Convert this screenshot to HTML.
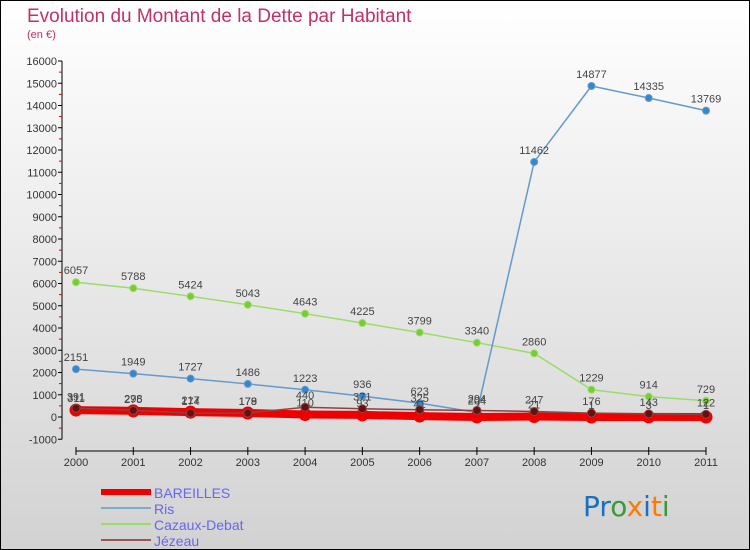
<!DOCTYPE html>
<html><head><meta charset="utf-8"><style>
body{margin:0}
#wrap{width:748px;height:548px;border:1px solid #000;background:linear-gradient(#ffffff,#d2d2d2);position:relative;overflow:hidden;font-family:"Liberation Sans",sans-serif}
</style></head><body>
<div id="wrap">
<svg id="chart" width="748" height="548" style="position:absolute;left:0;top:0">
<text x="26" y="21" font-size="19" fill="#c0306a">Evolution du Montant de la Dette par Habitant</text>
<text x="26" y="37" font-size="11" fill="#c0306a">(en €)</text>
<g id="axes"></g><g id="series"></g><g id="legend"></g>
<text x="582" y="515" font-size="28" font-family="DejaVu Sans, sans-serif"><tspan fill="#1a70c0">Pr</tspan><tspan fill="#3a9a3a">o</tspan><tspan fill="#ff7a00">x</tspan><tspan fill="#1a70c0">i</tspan><tspan fill="#ff7a00">t</tspan><tspan fill="#3a9a3a">i</tspan></text>
</svg>
</div>
<script>
const years=[2000,2001,2002,2003,2004,2005,2006,2007,2008,2009,2010,2011];
const bareilles=[311,275,217,179,110,93,41,2,21,1,3,1];
const ris=[2151,1949,1727,1486,1223,936,623,204,11462,14877,14335,13769];
const cazaux=[6057,5788,5424,5043,4643,4225,3799,3340,2860,1229,914,729];
const jezeau=[391,298,174,178,440,371,325,294,247,176,143,122];
const yTicks=[-1000,0,1000,2000,3000,4000,5000,6000,7000,8000,9000,10000,11000,12000,13000,14000,15000,16000];
const NS="http://www.w3.org/2000/svg";
function X(i){return 75+i*(705-75)/(years.length-1);}
function Y(v){return 416-v*22.25/1000;}
function mk(t,a,p){const e=document.createElementNS(NS,t);for(const k in a)e.setAttribute(k,a[k]);p.appendChild(e);return e;}
const ax=document.getElementById('axes');
const yl=mk('line',{x1:61,y1:Y(16000),x2:61,y2:Y(-1000),stroke:'#000'},ax);


yTicks.forEach(v=>{
 mk('line',{x1:57,y1:Y(v),x2:61,y2:Y(v),stroke:'#000'},ax);
 if(v<16000) mk('line',{x1:58,y1:Y(v+500),x2:61,y2:Y(v+500),stroke:'#d00'},ax);
 const t=mk('text',{x:56,y:Y(v)+4,'font-size':11,fill:'#333','text-anchor':'end'},ax);
 t.textContent=v;
 
 
});
const xl=mk('line',{x1:X(0),y1:450,x2:X(11),y2:450,stroke:'#000'},ax);


years.forEach((y,i)=>{
 mk('line',{x1:X(i),y1:446,x2:X(i),y2:454,stroke:'#000'},ax);
 const t=mk('text',{x:X(i),y:465,'font-size':11,fill:'#333','text-anchor':'middle'},ax);
 t.textContent=y;
 
 
});
const sg=document.getElementById('series');
function draw(name,data,color,w,r,dot,labels){
 const g=mk('g',{},sg);
 
 
 const pl=mk('polyline',{points:data.map((v,i)=>X(i)+','+Y(v)).join(' '),fill:'none',stroke:color,'stroke-width':w},g);
 
 
 data.forEach((v,i)=>{
  const c=mk('circle',{cx:X(i),cy:Y(v),r:r,fill:dot,stroke:color,'stroke-width':1},g);
  
  
  if(labels){const t=mk('text',{x:X(i),y:Y(v)-8,'font-size':11,fill:'#444','text-anchor':'middle'},g);
  t.textContent=v;
  
  }
 });
}
draw('cazaux-debat',cazaux,'#99dd66',1.5,3.5,'#77cc33',true);
draw('ris',ris,'#6699cc',1.5,3.5,'#3388cc',true);
draw('bareilles',bareilles,'#ee0000',8,6,'#ee0000',true);
draw('jezeau',jezeau,'#884444',1.5,4,'#661111',true);
const lg=document.getElementById('legend');
const items=[['BAREILLES','#ee0000',6],['Ris','#7aaccc',2],['Cazaux-Debat','#99dd66',2],['Jézeau','#995555',2]];
items.forEach((it,i)=>{
 const y=491+i*16;
 const g=mk('g',{},lg);
 
 
 mk('line',{x1:100,y1:y,x2:150,y2:y,stroke:it[1],'stroke-width':it[2]},g);
 const t=mk('text',{x:153,y:y+6,'font-size':14,fill:'#6666ee'},g);
 t.textContent=it[0];
});
</script>
</body></html>
